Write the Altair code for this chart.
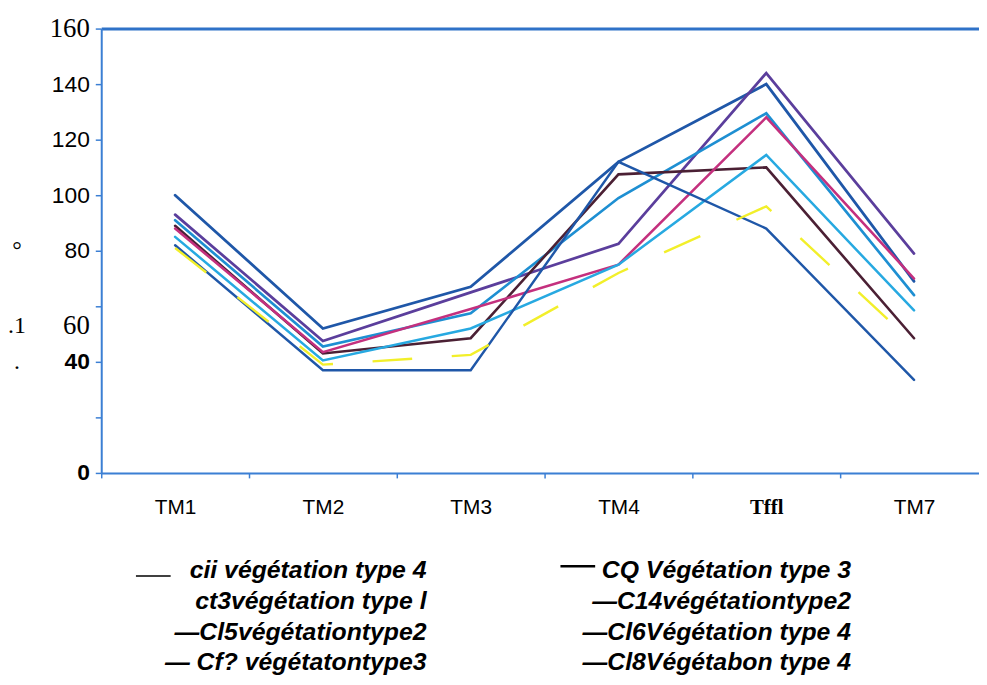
import altair as alt
import pandas as pd

# ---- data ----
bands = ["TM1", "TM2", "TM3", "TM4", "Tffl", "TM7"]

series_names = [
    "cii végétation type 4",
    "CQ Végétation type 3",
    "ct3végétation type l",
    "—C14végétationtype2",
    "—Cl5végétationtype2",
    "—Cl6Végétation type 4",
    "— Cf? végétatontype3",
    "—Cl8Végétabon type 4",
]
s_dark_a = [100, 52, 67, 112, 140, 69]
s_purple = [93, 47.5, 65, 82.5, 144, 79]
s_cyan1 = [91, 45.5, 57.5, 99, 129.5, 64]
s_maroon = [89, 43, 48.5, 107.5, 110, 48.5]
s_magenta = [88, 43.5, 59, 75, 128, 70]
s_cyan2 = [85, 40.5, 52, 75, 114.5, 58.5]
s_dark_b = [82, 37, 37, 112, 88, 33.5]
s_yellow = [81, 39, 42.5, 72, 96, 46.5]

series_values = [s_dark_a, s_purple, s_cyan1, s_maroon, s_magenta, s_cyan2, s_dark_b, s_yellow]
series_colors = ["#1f57a8", "#5b3e9c", "#1e8fd2", "#4b2034", "#c4307e", "#27a9e1", "#1f57a8", "#f2ef2a"]
series_widths = [2.8, 2.4, 2.6, 2.6, 1.8, 2.6, 2.8, 2.6]

legend_left = ["cii végétation type 4", "ct3végétation type l", "—Cl5végétationtype2", "— Cf? végétatontype3"]
legend_right = ["CQ Végétation type 3", "—C14végétationtype2", "—Cl6Végétation type 4", "—Cl8Végétabon type 4"]

side_marks = ["°", ".1", "."]
side_values = [80, 53, 40]

# ---- tables ----
rows = []
for name, vals in zip(series_names, series_values):
    for b, v in zip(bands, vals):
        rows.append({"series": name, "band": b, "value": v})
df = pd.DataFrame(rows)

df_leg = pd.DataFrame({
    "label": legend_left + legend_right,
    "col": [0] * 4 + [1] * 4,
    "row": [0, 1, 2, 3] * 2,
})
df_sym = pd.DataFrame({"col": [0, 1]})
df_side = pd.DataFrame({"m": side_marks, "v": side_values})

AXIS_BLUE = "#3b7fd4"
SANS = "Liberation Sans"
SERIF = "Liberation Serif"

x_enc = alt.X(
    "band:N",
    sort=bands,
    bandPosition=0.5,
    scale=alt.Scale(type="band", domain=bands, range=[0, 894], paddingInner=0, paddingOuter=0),
    axis=alt.Axis(
        title=None,
        labelAngle=0,
        tickBand="extent",
        domainColor=AXIS_BLUE,
        domainWidth=2,
        tickColor=AXIS_BLUE,
        tickSize=5,
        tickWidth=1.5,
        labelColor="black",
        labelPadding=19,
        labelFontSize=21,
        labelFont=alt.condition("datum.value == 'Tffl'", alt.value(SERIF), alt.value(SANS)),
        labelFontWeight=alt.condition("datum.value == 'Tffl'", alt.value("bold"), alt.value("normal")),
    ),
)
y_enc = alt.Y(
    "value:Q",
    scale=alt.Scale(domain=[0, 160], nice=False),
    axis=alt.Axis(
        title=None,
        values=[0, 20, 40, 60, 80, 100, 120, 140, 160],
        grid=True,
        gridColor="#2f72c8",
        gridWidth=3,
        gridOpacity=alt.condition("datum.value == 160", alt.value(1), alt.value(0)),
        domainColor=AXIS_BLUE,
        domainWidth=2,
        tickColor=AXIS_BLUE,
        tickSize=6,
        tickWidth=1.5,
        labelColor="black",
        labelPadding=6,
        labelExpr="datum.value == 20 ? '' : datum.label",
        labelFont=alt.condition("datum.value % 100 == 60", alt.value(SERIF), alt.value(SANS)),
        labelFontSize=alt.condition("datum.value % 100 == 60", alt.value(27), alt.value(23)),
        labelFontWeight=alt.condition("datum.value <= 40", alt.value("bold"), alt.value("normal")),
        labelOffset=alt.condition("datum.value == 60", alt.value(19), alt.value(0)),
    ),
)

color_enc = alt.Color("series:N", scale=alt.Scale(domain=series_names, range=series_colors), legend=None)
width_enc = alt.StrokeWidth("series:N", scale=alt.Scale(domain=series_names, range=series_widths), legend=None)

base = alt.Chart(df)
solid = base.transform_filter(
    alt.datum.series != series_names[7]
).mark_line(strokeCap="round").encode(x=x_enc, y=y_enc, color=color_enc, strokeWidth=width_enc, detail="series:N")
dashed = base.transform_filter(
    alt.datum.series == series_names[7]
).mark_line(strokeDash=[40, 40]).encode(x=x_enc, y=y_enc, color=color_enc, strokeWidth=width_enc, detail="series:N")

side = alt.Chart(df_side).mark_text(
    font=SERIF, fontSize=24, color="black", align="center", baseline="middle"
).encode(x=alt.value(-85), y=alt.Y("v:Q"), text="m:N")

legend_text = alt.Chart(df_leg).transform_calculate(
    px="datum.col == 0 ? 328 : 756",
    py="546 + datum.row * 31",
).mark_text(
    font=SANS, fontSize=25, fontStyle="italic", fontWeight="bold", color="black", align="right", baseline="middle"
).encode(x=alt.X("px:Q", scale=None), y=alt.Y("py:Q", scale=None), text="label:N")

legend_sym = alt.Chart(df_sym).transform_calculate(
    x1="datum.col == 0 ? 35 : 463",
    x2="datum.col == 0 ? 70 : 498",
    yy="datum.col == 0 ? 552 : 542",
    sw="datum.col == 0 ? 1.5 : 2.5",
).mark_rule(color="black").encode(
    x=alt.X("x1:Q", scale=None), x2="x2:Q", y=alt.Y("yy:Q", scale=None),
    strokeWidth=alt.StrokeWidth("sw:Q", scale=None),
)

chart = alt.layer(solid, dashed, side, legend_text, legend_sym).properties(
    width=885,
    height=448,
    autosize=alt.AutoSizeParams(type="none"),
    padding={"left": 94, "top": 18, "right": 0, "bottom": 203},
).configure_view(stroke=None).configure(background="white")

chart.save("out.html", embed_options={"renderer": "svg", "actions": False})
